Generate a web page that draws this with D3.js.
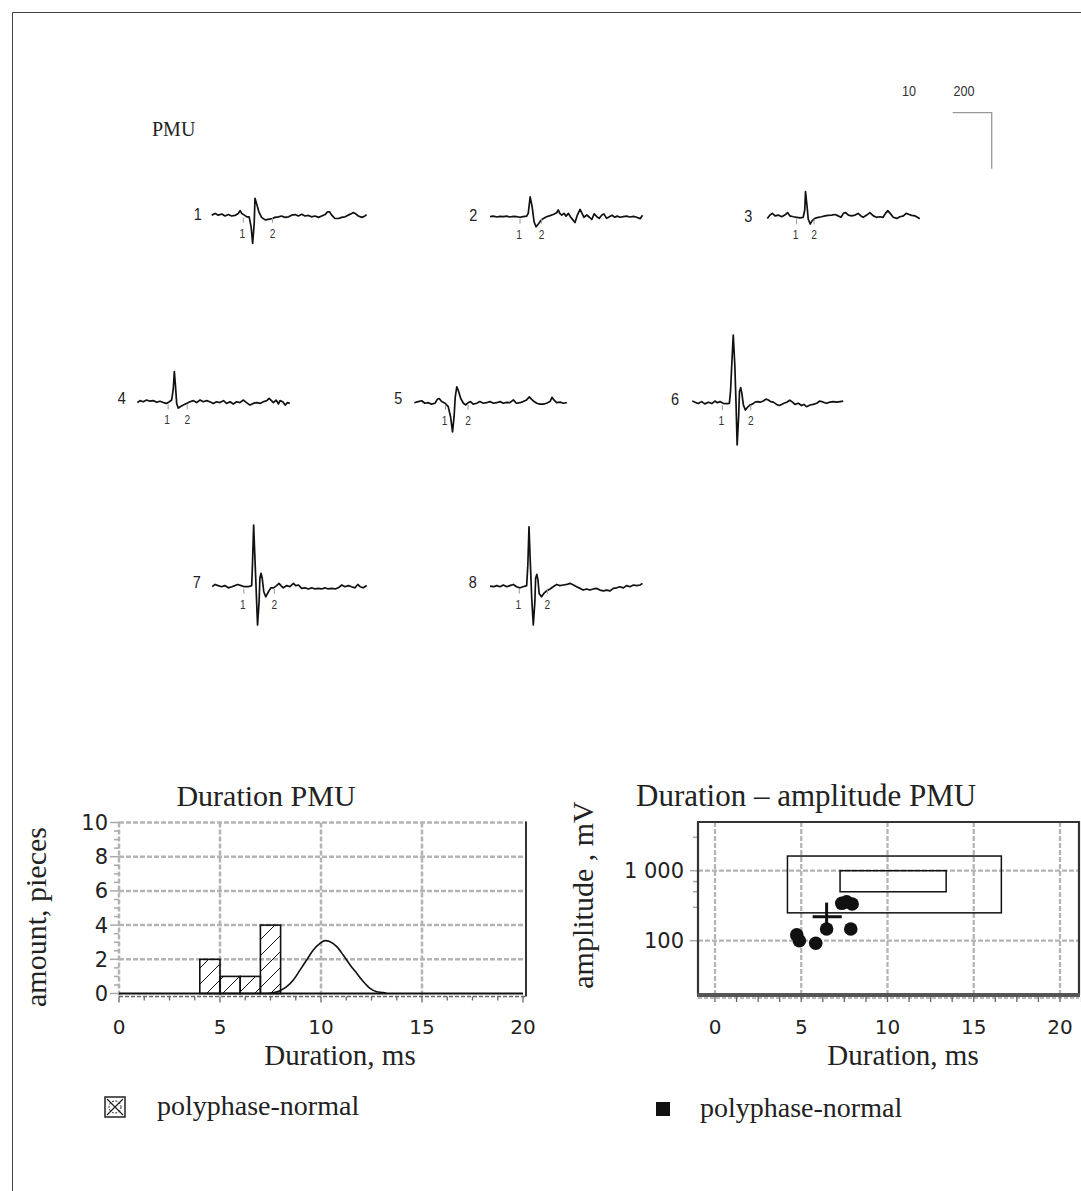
<!DOCTYPE html>
<html><head><meta charset="utf-8">
<script src="https://cdn.jsdelivr.net/npm/d3@7"></script>
<style>body{margin:0;background:#fff} svg{display:block}</style>
</head><body><svg id="c" width="1081" height="1191"></svg>
<script>
// ---------------- DATA ----------------
// PMU traces: [time ms, amplitude µV]
const trace1 = [[0,2],[0.9,8],[1.7,2],[2.6,6],[3.4,-1],[4.3,4],[5.1,-1],[6.0,1],[6.8,8],[7.3,18],[7.7,8],[8.4,2],[9.0,-4],[9.6,-4],[10.1,-39],[10.5,-99],[10.9,-27],[11.1,62],[11.5,44],[12.1,14],[12.8,-6],[13.7,-15],[14.5,-13],[15.6,-10],[16.2,-6],[17.1,-4],[17.9,-1],[18.8,-6],[19.7,-4],[20.5,2],[21.4,4],[22.2,-1],[23.1,5],[23.9,-1],[24.8,1],[25.6,-4],[26.5,-1],[27.4,-6],[28.2,-1],[29.1,4],[29.7,14],[30.2,14],[30.8,2],[31.6,-10],[32.5,-10],[33.3,-6],[34.2,-4],[35.0,2],[35.9,8],[36.3,11],[36.8,8],[37.6,-1],[38.5,-6],[39.3,-1],[39.7,4]];
const trace2 = [[0,0],[0.9,2],[1.7,-1],[2.6,1],[3.4,0],[4.3,2],[5.1,-1],[6.0,1],[6.8,0],[7.7,-2],[8.5,0],[9.4,2],[9.8,12],[10.3,71],[10.8,36],[11.3,-18],[11.8,-36],[12.4,-26],[13.0,-14],[13.7,-6],[14.5,0],[15.4,4],[16.2,8],[17.1,14],[17.5,24],[17.9,12],[18.4,6],[19.0,12],[19.5,2],[20.1,12],[20.7,-2],[21.4,-14],[21.8,-21],[22.4,6],[23.1,26],[23.6,12],[24.1,-2],[24.8,6],[25.5,-2],[26.1,-10],[26.7,10],[27.4,0],[28.0,-6],[28.7,6],[29.2,10],[29.9,-6],[30.6,0],[31.3,5],[32.0,-2],[32.6,2],[33.3,-2],[34.2,0],[35.0,2],[35.9,-1],[36.8,1],[37.6,-2],[38.5,-7],[39.1,5]];
const trace3 = [[0,-4],[0.7,8],[1.3,14],[2.0,5],[2.8,8],[3.7,2],[4.5,8],[5.2,17],[5.8,5],[6.7,2],[7.5,0],[8.4,-2],[9.2,0],[9.6,26],[9.8,92],[10.2,38],[10.5,-7],[11.0,-24],[11.5,-12],[12.2,-4],[13.1,0],[13.9,2],[14.8,5],[15.6,7],[16.5,8],[17.4,10],[18.2,5],[18.9,0],[19.5,14],[20.1,17],[20.8,8],[21.6,5],[22.5,8],[23.3,14],[24.0,5],[24.6,0],[25.5,8],[26.3,17],[27.2,5],[28.0,0],[28.9,2],[29.7,0],[30.3,14],[30.9,24],[31.5,14],[32.3,0],[33.2,-4],[34.0,2],[34.9,5],[35.6,14],[36.2,11],[37.0,7],[37.9,5],[38.5,0],[39.1,-5]];
const trace4 = [[0,-1],[0.7,6],[1.5,2],[2.4,8],[3.2,4],[4.1,6],[5.0,0],[5.8,4],[6.7,-1],[7.5,-4],[8.2,2],[8.8,8],[9.2,44],[9.5,110],[9.8,56],[10.1,-4],[10.5,-21],[11.1,-15],[11.8,-10],[12.6,-4],[13.5,2],[14.4,6],[15.2,-1],[16.1,8],[16.9,2],[17.8,6],[18.6,2],[19.5,-4],[20.3,2],[21.2,-1],[22.1,6],[22.9,-4],[23.8,2],[24.6,-6],[25.5,2],[26.3,-1],[27.2,8],[28.0,-1],[28.9,-10],[29.7,-4],[30.6,-1],[31.5,-4],[32.3,2],[33.2,6],[33.8,14],[34.4,6],[34.9,-1],[35.6,8],[36.2,-6],[36.6,6],[37.3,2],[37.9,-10],[38.5,-1],[39.1,-4]];
const trace5 = [[0,0],[1.0,4],[1.9,7],[2.7,-2],[3.6,0],[4.4,-5],[5.3,-2],[5.9,12],[6.4,15],[7.0,4],[7.9,-2],[8.7,-14],[9.3,-50],[9.8,-104],[10.2,-50],[10.5,21],[10.9,57],[11.4,39],[11.9,15],[12.6,-2],[13.2,-8],[13.8,0],[14.4,4],[15.1,-5],[16.0,-2],[16.8,4],[17.7,-2],[18.5,0],[19.4,4],[20.3,-2],[21.1,0],[22.0,4],[22.8,-2],[23.7,1],[24.5,0],[25.4,10],[25.8,4],[26.2,-2],[27.1,0],[27.9,4],[28.8,10],[29.5,21],[30.1,12],[30.7,4],[31.4,-2],[32.2,-5],[33.1,-5],[33.9,-2],[34.8,4],[35.3,19],[35.8,10],[36.5,0],[37.4,2],[38.2,-2],[39.1,0]];
const trace6 = [[0,8],[0.7,4],[1.5,-1],[2.4,6],[3.2,-2],[4.1,4],[5.0,-1],[5.8,8],[6.4,2],[7.1,6],[7.9,0],[8.8,-1],[9.5,0],[9.8,42],[10.2,161],[10.5,244],[10.9,137],[11.2,6],[11.5,-149],[11.9,-42],[12.1,42],[12.4,56],[12.7,36],[13.1,-6],[13.6,-24],[14.1,-15],[14.8,-6],[15.5,-2],[16.1,4],[16.7,6],[17.4,4],[18.2,8],[18.9,15],[19.5,12],[20.1,6],[20.8,4],[21.6,-4],[22.3,-8],[22.9,-4],[23.5,0],[24.2,4],[25.0,11],[25.7,4],[26.3,-4],[27.2,0],[28.0,-8],[28.6,-4],[29.3,-12],[30.2,-6],[31.0,-4],[31.9,0],[32.7,8],[33.6,4],[34.4,0],[35.3,4],[36.2,6],[37.0,4],[37.9,6],[38.7,8]];
const trace7 = [[0,0],[0.7,8],[1.5,4],[2.4,0],[3.2,4],[4.1,-4],[5.0,0],[5.8,4],[6.5,8],[7.4,4],[8.2,0],[9.2,0],[10.1,4],[10.3,77],[10.6,220],[10.9,113],[11.3,-30],[11.6,-137],[12.0,-54],[12.2,30],[12.5,48],[12.8,30],[13.2,-18],[13.7,-36],[14.4,-18],[15.0,-4],[15.7,-4],[16.5,4],[17.1,12],[17.6,4],[18.2,-4],[19.1,4],[19.9,0],[20.8,12],[21.4,4],[22.1,6],[22.9,-6],[23.8,-4],[24.6,-8],[25.5,-4],[26.3,-8],[27.2,-6],[28.0,-8],[28.9,-4],[29.7,-8],[30.6,-6],[31.5,-8],[32.3,-4],[33.2,6],[34.0,0],[34.9,4],[35.7,0],[36.6,-4],[37.3,8],[37.9,0],[38.7,-4],[39.6,4]];
const trace8 = [[0,2],[0.9,0],[1.7,4],[2.6,0],[3.4,6],[4.3,0],[5.1,4],[6.0,8],[6.8,0],[7.7,-4],[8.5,0],[9.4,4],[9.7,77],[10.0,214],[10.3,101],[10.7,-42],[11.1,-137],[11.5,-54],[11.7,30],[12.0,44],[12.3,24],[12.6,-24],[13.2,-36],[13.8,-24],[14.5,-15],[15.4,-8],[16.2,0],[17.1,8],[17.9,4],[18.8,6],[19.7,8],[20.5,12],[21.4,6],[22.2,0],[23.1,-6],[23.9,-12],[24.8,-8],[25.6,-12],[26.5,-8],[27.4,-6],[28.2,-12],[29.1,-15],[29.9,-12],[30.8,-15],[31.6,-6],[32.5,-4],[33.3,0],[34.2,-4],[35.0,4],[35.9,0],[36.8,6],[37.6,4],[38.5,6],[39.1,12]];
const traceNames = ["1","2","3","4","5","6","7","8"];
const traceMarkers = [[8.1,15.6],[7.7,13.2],[7.5,12.0],[7.9,12.8],[8.0,13.8],[7.7,15.0],[8.1,15.9],[7.5,14.7]];
const markerNames = ["1","2"];
const scaleBarValues = [10, 200]; // ms, µV
const panelLabel = "PMU";

// Histogram
const histBinStart = [4,5,6,7];
const histBinEnd = [5,6,7,8];
const histCounts = [2,1,1,4];
const curveT = [7.4,7.97,8.3,8.63,8.96,9.29,9.62,9.95,10.2,10.45,10.78,11.1,11.44,11.77,12.1,12.43,12.76,13.08,13.25];
const curveV = [0,0.16,0.4,0.79,1.37,1.96,2.54,2.93,3.09,3.03,2.74,2.25,1.67,1.18,0.69,0.3,0.1,0.05,0];
const histXTicks = [0,5,10,15,20];
const histYTicks = [0,2,4,6,8,10];

// Scatter
const scatDur = [4.74,4.89,5.84,6.47,7.35,7.63,7.95,7.87];
const scatAmp = [121,100,92,147,342,360,335,147];
const outerRange = [4.2,16.6,250,1620];   // duration min/max, amplitude min/max
const innerRange = [7.25,13.4,500,1000];
const meanPoint = [6.47,220];
const meanDurRange = [5.66,7.35];
const meanAmpRange = [177,350];
const scatXTicks = [0,5,10,15,20];
const scatYTicks = [100,1000];
const scatYMinor = [3000,700,500,300];
const legendText = "polyphase-normal";

// ---------------- LAYOUT ----------------
const svg = d3.select("#c");
const SERIF = "'Liberation Serif','Times New Roman',serif";
const SANS = "'DejaVu Sans',sans-serif";
const NARROW = "'Liberation Sans',Arial,sans-serif";
const gridCol = "#b4b4b4";

svg.append("line").attr("x1",12.5).attr("y1",12.5).attr("x2",12.5).attr("y2",1191).attr("stroke","#444").attr("stroke-width",1);
svg.append("line").attr("x1",12.5).attr("y1",12.5).attr("x2",1081).attr("y2",12.5).attr("stroke","#444").attr("stroke-width",1);

const defs = svg.append("defs");
const pat = defs.append("pattern").attr("id","hatch").attr("patternUnits","userSpaceOnUse").attr("width",16).attr("height",16);
pat.append("path").attr("d","M0,16 L16,0 M-4,4 L4,-4 M12,20 L20,12").attr("stroke","#111").attr("stroke-width",1);

// Trace scales
const tx = d3.scaleLinear().domain([0,40]).range([0,156]);
const ty = d3.scaleLinear().domain([-200,200]).range([56,-56]);
const traceLine = d3.line().x(d=>tx(d[0])).y(d=>ty(d[1]));
const traces = [trace1,trace2,trace3,trace4,trace5,trace6,trace7,trace8];
const traceLayout = [
 {x:211.7,y:215.7,ldx:-14,ldy:4.5},
 {x:490,y:216.7,ldx:-16.7,ldy:4.5},
 {x:767.3,y:217.3,ldx:-19,ldy:4.5},
 {x:137.3,y:402.3,ldx:-15.6,ldy:1.5},
 {x:414.3,y:402.7,ldx:-16,ldy:1.5},
 {x:692.3,y:403.3,ldx:-17.3,ldy:1.5},
 {x:212.3,y:586.7,ldx:-15.6,ldy:1.5},
 {x:490,y:586.7,ldx:-17.3,ldy:1.5}
];
function narrowText(parent, x, y, txt, size, sx, fill, anchor){
  parent.append("g").attr("transform",`translate(${x},${y}) scale(${sx},1)`)
   .append("text").attr("text-anchor",anchor||"middle").attr("font-family",NARROW)
   .attr("font-size",size).attr("fill",fill).text(txt);
}
traces.forEach((tr,i)=>{
  const L = traceLayout[i];
  const g = svg.append("g").attr("transform",`translate(${L.x},${L.y})`);
  g.append("path").attr("d",traceLine(tr)).attr("fill","none").attr("stroke","#111").attr("stroke-width",1.7).attr("stroke-linejoin","round");
  narrowText(g, L.ldx, L.ldy, traceNames[i], 17, 0.85, "#222");
  traceMarkers[i].forEach((m,j)=>{
    g.append("line").attr("x1",tx(m)).attr("x2",tx(m)).attr("y1",2).attr("y2",7).attr("stroke","#999").attr("stroke-width",1);
    narrowText(g, tx(m)-(j===0?1:0), 22, markerNames[j], 12, 0.85, "#333");
  });
});

// scale bar
const sbX = 991.7, sbY = 112.7;
svg.append("path").attr("d",`M${sbX - (tx(scaleBarValues[0])-tx(0))},${sbY} H${sbX} V${sbY + (ty(0)-ty(scaleBarValues[1]))}`)
  .attr("fill","none").attr("stroke","#999").attr("stroke-width",1.3);
narrowText(svg, 909, 96, String(scaleBarValues[0]), 14, 0.9, "#333");
narrowText(svg, 964, 96, String(scaleBarValues[1]), 14, 0.9, "#333");
svg.append("text").attr("x",152).attr("y",136).attr("font-family",SERIF).attr("font-size",20).attr("fill","#222").text(panelLabel);

// ---------------- HISTOGRAM ----------------
const hx = d3.scaleLinear().domain([0,20]).range([119,523]);
const hy = d3.scaleLinear().domain([0,10]).range([993.5,822.5]);
const hg = svg.append("g");
histYTicks.filter(v=>v>0).forEach(v=>{
  hg.append("line").attr("x1",hx(0)).attr("x2",hx(20)+3).attr("y1",hy(v)).attr("y2",hy(v))
    .attr("stroke",gridCol).attr("stroke-width",2.5).attr("stroke-dasharray","5,2");
});
histXTicks.filter(v=>v<20).forEach(v=>{
  hg.append("line").attr("x1",hx(v)).attr("x2",hx(v)).attr("y1",hy(10)).attr("y2",hy(0)+3)
    .attr("stroke",gridCol).attr("stroke-width",2.5).attr("stroke-dasharray","5,2");
});
d3.range(0,10.01,0.5).forEach(v=>{
  const major = Math.abs(v%2)<1e-6;
  hg.append("line").attr("x1",hx(0)-(major?9:5)).attr("x2",hx(0)).attr("y1",hy(v)).attr("y2",hy(v))
    .attr("stroke","#aaa").attr("stroke-width",1.5);
});
hg.append("line").attr("x1",hx(20)+3).attr("x2",hx(20)+3).attr("y1",hy(10)-1).attr("y2",hy(0)+3).attr("stroke","#333").attr("stroke-width",2);
hg.append("line").attr("x1",hx(0)).attr("x2",hx(20)+3).attr("y1",hy(0)+3).attr("y2",hy(0)+3).attr("stroke","#666").attr("stroke-width",1.5).attr("stroke-dasharray","4,2");
d3.range(0,20.01,1.25).forEach(v=>{
  const major = Math.abs(v%5)<1e-6;
  hg.append("line").attr("x1",hx(v)).attr("x2",hx(v)).attr("y1",hy(0)+3).attr("y2",hy(0)+(major?9:7)).attr("stroke","#666").attr("stroke-width",1.3);
});
hg.selectAll("rect.bar").data(histCounts).enter().append("rect")
  .attr("x",(d,i)=>hx(histBinStart[i])).attr("width",(d,i)=>hx(histBinEnd[i])-hx(histBinStart[i]))
  .attr("y",d=>hy(d)).attr("height",d=>hy(0)-hy(d))
  .attr("fill","url(#hatch)").attr("stroke","#111").attr("stroke-width",1.6);
hg.append("line").attr("x1",hx(0)).attr("x2",hx(20)).attr("y1",hy(0)).attr("y2",hy(0)).attr("stroke","#111").attr("stroke-width",2);
const curveData = curveT.map((t,i)=>[t,curveV[i]]);
hg.append("path").attr("d",d3.line().x(d=>hx(d[0])).y(d=>hy(d[1])).curve(d3.curveMonotoneX)(curveData))
  .attr("fill","none").attr("stroke","#111").attr("stroke-width",1.6);
histYTicks.forEach(v=>{
  hg.append("text").attr("x",108).attr("y",hy(v)).attr("dy","0.36em").attr("text-anchor","end")
    .attr("font-family",SANS).attr("font-size",21).attr("fill","#222").text(v);
});
histXTicks.forEach(v=>{
  hg.append("text").attr("x",hx(v)).attr("y",1034).attr("text-anchor","middle")
    .attr("font-family",SANS).attr("font-size",20).attr("fill","#222").text(v);
});
hg.append("text").attr("x",266).attr("y",806).attr("text-anchor","middle").attr("font-family",SERIF).attr("font-size",30).attr("fill","#222").text("Duration PMU");
hg.append("text").attr("x",340).attr("y",1065).attr("text-anchor","middle").attr("font-family",SERIF).attr("font-size",29).attr("fill","#222").text("Duration, ms");
hg.append("text").attr("transform","translate(46,917) rotate(-90)").attr("text-anchor","middle").attr("font-family",SERIF).attr("font-size",30).attr("fill","#222").text("amount, pieces");

// legend left
const lg = svg.append("g").attr("transform","translate(105,1097)");
lg.append("rect").attr("width",20).attr("height",20).attr("fill","#fff").attr("stroke","#222").attr("stroke-width",1.5);
lg.append("path").attr("d","M2,2 L18,18 M18,2 L2,18").attr("stroke","#222").attr("stroke-width",1.2);
lg.append("circle").attr("cx",10).attr("cy",10).attr("r",6).attr("fill","none").attr("stroke","#222").attr("stroke-width",1).attr("stroke-dasharray","2,1.5");
svg.append("text").attr("x",157).attr("y",1115).attr("font-family",SERIF).attr("font-size",28).attr("fill","#222").text(legendText);

// ---------------- SCATTER ----------------
const sx = d3.scaleLinear().domain([0,20]).range([715,1060]);
const sy = d3.scaleLog().domain([100,1000]).range([940.7,870.7]);
const F = {l:698, r:1079, t:822, b:995};
const sg = svg.append("g");
scatXTicks.forEach(v=>{
  sg.append("line").attr("x1",sx(v)).attr("x2",sx(v)).attr("y1",F.t).attr("y2",F.b)
    .attr("stroke",gridCol).attr("stroke-width",2.3).attr("stroke-dasharray","5,2");
});
scatYTicks.forEach(v=>{
  sg.append("line").attr("x1",F.l).attr("x2",F.r).attr("y1",sy(v)).attr("y2",sy(v))
    .attr("stroke",gridCol).attr("stroke-width",2.3).attr("stroke-dasharray","5,2");
});
scatYTicks.concat(scatYMinor).forEach(v=>{
  sg.append("line").attr("x1",F.l-(scatYTicks.includes(v)?8:5)).attr("x2",F.l).attr("y1",sy(v)).attr("y2",sy(v)).attr("stroke","#aaa").attr("stroke-width",1.5);
});
sg.append("path").attr("d",`M${F.l},${F.b} V${F.t} H${F.r} V${F.b}`).attr("fill","none").attr("stroke","#333").attr("stroke-width",2.2);
sg.append("line").attr("x1",F.l-1).attr("x2",F.r+1).attr("y1",F.b).attr("y2",F.b).attr("stroke","#555").attr("stroke-width",4);
sg.append("line").attr("x1",F.l).attr("x2",F.r).attr("y1",F.b+3).attr("y2",F.b+3).attr("stroke","#777").attr("stroke-width",1.2).attr("stroke-dasharray","4,2");
d3.range(0,21.26,1.25).forEach(v=>{
  sg.append("line").attr("x1",sx(v)).attr("x2",sx(v)).attr("y1",F.b+2).attr("y2",F.b+7).attr("stroke","#666").attr("stroke-width",1.3);
});
[outerRange, innerRange].forEach(r=>{
  sg.append("rect").attr("x",sx(r[0])).attr("width",sx(r[1])-sx(r[0]))
    .attr("y",sy(r[3])).attr("height",sy(r[2])-sy(r[3]))
    .attr("fill","none").attr("stroke","#111").attr("stroke-width",1.5);
});
sg.append("line").attr("x1",sx(meanPoint[0])).attr("x2",sx(meanPoint[0])).attr("y1",sy(meanAmpRange[1])).attr("y2",sy(meanAmpRange[0])).attr("stroke","#111").attr("stroke-width",3);
sg.append("line").attr("x1",sx(meanDurRange[0])).attr("x2",sx(meanDurRange[1])).attr("y1",sy(meanPoint[1])).attr("y2",sy(meanPoint[1])).attr("stroke","#111").attr("stroke-width",3);
sg.selectAll("circle.pt").data(scatDur).enter().append("circle")
  .attr("cx",d=>sx(d)).attr("cy",(d,i)=>sy(scatAmp[i])).attr("r",6.8).attr("fill","#111");
const fmtSp = d3.formatLocale({decimal:".",thousands:" ",grouping:[3],currency:["",""]}).format(",");
scatYTicks.forEach(v=>{
  sg.append("text").attr("x",684).attr("y",sy(v)).attr("dy","0.36em").attr("text-anchor","end")
    .attr("font-family",SANS).attr("font-size",21).attr("fill","#222").text(fmtSp(v));
});
scatXTicks.forEach(v=>{
  sg.append("text").attr("x",sx(v)).attr("y",1034).attr("text-anchor","middle")
    .attr("font-family",SANS).attr("font-size",20).attr("fill","#222").text(v);
});
sg.append("text").attr("x",636).attr("y",806).attr("font-family",SERIF).attr("font-size",31).attr("fill","#222").text("Duration – amplitude PMU");
sg.append("text").attr("x",903).attr("y",1065).attr("text-anchor","middle").attr("font-family",SERIF).attr("font-size",29).attr("fill","#222").text("Duration, ms");
sg.append("text").attr("transform","translate(593,895) rotate(-90)").attr("text-anchor","middle").attr("font-family",SERIF).attr("font-size",30).attr("fill","#222").text("amplitude , mV");

// legend right
svg.append("rect").attr("x",656).attr("y",1102).attr("width",14).attr("height",14).attr("fill","#111");
svg.append("text").attr("x",700).attr("y",1117).attr("font-family",SERIF).attr("font-size",28).attr("fill","#222").text(legendText);
</script></body></html>
